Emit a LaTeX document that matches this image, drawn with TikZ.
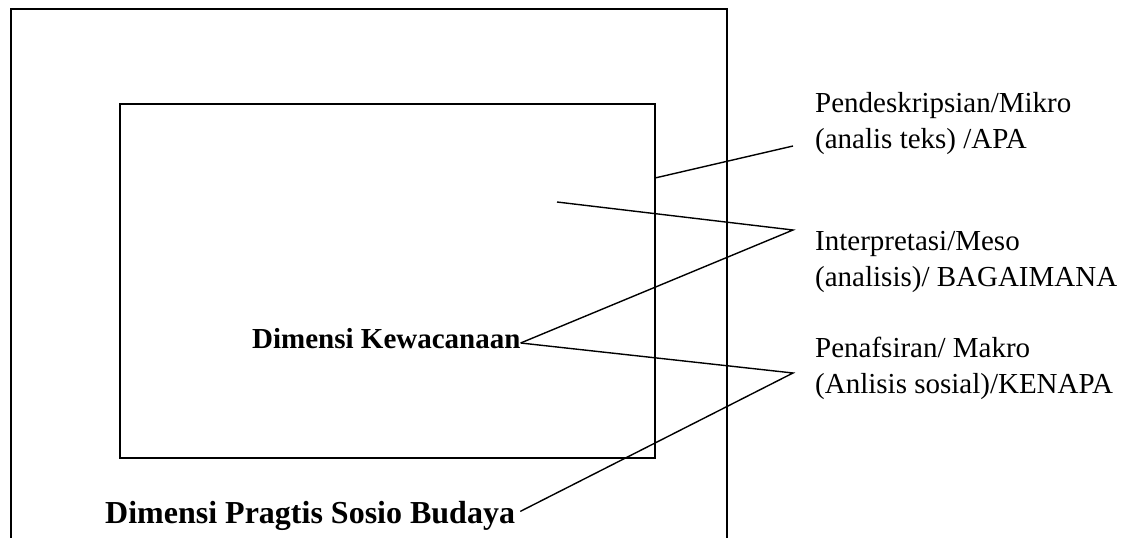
\documentclass[tikz,border=0pt]{standalone}
\usepackage{fontspec}
\setmainfont{Liberation Serif}

\tikzset{
  frame/.style={line width=1.6pt},
  leader/.style={line width=1.4pt},
  sidetext/.style={anchor=base west, inner sep=0pt, align=left,
    font=\fontsize{29}{36}\selectfont},
  dimtext/.style={anchor=base west, inner sep=0pt, font=\bfseries\fontsize{29}{36}\selectfont}
}

\begin{document}
\begin{tikzpicture}[x=1pt, y=-1pt]
        \useasboundingbox (0,0) rectangle (1130,538);

        % outer box (socio-cultural dimension), open at the bottom
        \draw[frame] (11,538) -- (11,9) -- (727,9) -- (727,538);

        % inner box (discourse dimension)
        \draw[frame] (120,104) rectangle (655,458);

        % dimension labels
        \node[dimtext] (kewacanaan) at (252,348) {Dimensi Kewacanaan};
        \node[dimtext, font=\bfseries\fontsize{32}{38}\selectfont] (budaya) at (105,523) {Dimensi Pragtis Sosio Budaya};

        % level labels on the right (base = last line)
        \node[sidetext] (mikro) at (815,148) {Pendeskripsian/Mikro\\(analis teks) /APA};
        \node[sidetext] (meso) at (815,286) {Interpretasi/Meso\\(analisis)/ BAGAIMANA};
        \node[sidetext] (makro) at (815,393) {Penafsiran/ Makro\\(Anlisis sosial)/KENAPA};

        % end points of the leaders
        \coordinate (tipmikro) at (793,146);
        \coordinate (tipmeso) at (793,230);
        \coordinate (tipmakro) at (793,373);
        \coordinate (onbox) at (655,178);
        \coordinate (inbox) at (557,202);
        \coordinate (kwend) at ([yshift=5pt]kewacanaan.base east);
        \coordinate (bdend) at ([xshift=5pt,yshift=4pt]budaya.east);

        % leaders
        \draw[leader] (onbox) -- (tipmikro);
        \draw[leader] (inbox) -- (tipmeso) -- (kwend);
        \draw[leader] (kwend) -- (tipmakro) -- (bdend);
    \end{tikzpicture}
\end{document}
